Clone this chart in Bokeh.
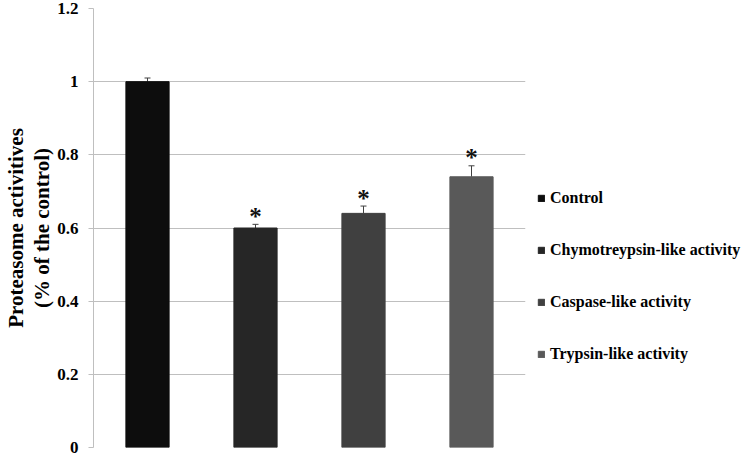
from bokeh.plotting import figure
from bokeh.models import (ColumnDataSource, Range1d, FixedTicker, CustomJSTickFormatter,
                          Whisker, TeeHead, Legend, LegendItem, LinearAxis)
from bokeh.embed import file_html
from bokeh.resources import INLINE
from bokeh.core.properties import value

# ---- data ----
categories = ["Control", "Chymotreypsin-like activity", "Caspase-like activity", "Trypsin-like activity"]
means = [1.00, 0.60, 0.64, 0.74]
errors = [0.01, 0.01, 0.02, 0.03]
significant = ["", "*", "*", "*"]
bar_colors = ["#0d0d0d", "#262626", "#404040", "#595959"]
y_ticks = [0, 0.2, 0.4, 0.6, 0.8, 1.0, 1.2]
y_title_lines = ["Proteasome activitives", "(% of the control)"]

positions = list(range(len(categories)))
upper = [m + e for m, e in zip(means, errors)]

src = ColumnDataSource(dict(x=positions, top=means, upper=upper, lower=means,
                            color=bar_colors, name=categories, star=significant))

FONT = "Liberation Serif"

p = figure(output_backend="svg", toolbar_location=None,
           frame_width=432, frame_height=439,
           min_border_left=84, min_border_top=8, min_border_bottom=9, min_border_right=0,
           x_range=Range1d(-0.5, 3.5), y_range=Range1d(0, 1.2))
p.outline_line_color = None
p.background_fill_color = "white"
p.border_fill_color = "white"

renderers = []
for i in range(len(categories)):
    sub = ColumnDataSource(dict(x=[positions[i]], top=[means[i]]))
    r = p.vbar(x="x", top="top", width=0.4, source=sub,
               fill_color=bar_colors[i], line_color=bar_colors[i])
    renderers.append(r)

wh = Whisker(base="x", upper="upper", lower="lower", source=src,
             line_color="#404040", line_width=1,
             upper_head=TeeHead(size=6, line_color="#404040", line_width=1),
             lower_head=None)
p.add_layout(wh)

p.text(x="x", y="upper", text="star", source=src,
       text_font=value(FONT), text_font_size="25px", text_font_style="bold",
       text_align="center", text_baseline="middle", y_offset=-8, text_color="#111111")

# axes
p.xaxis.visible = False
p.xgrid.visible = False
p.ygrid.grid_line_color = "#bfbfbf"
p.ygrid.grid_line_width = 1
p.ygrid.ticker = FixedTicker(ticks=y_ticks)

ya = p.yaxis[0]
ya.ticker = FixedTicker(ticks=y_ticks)
ya.formatter = CustomJSTickFormatter(code="return String(Math.round(tick*10)/10);")
ya.axis_line_color = "#bfbfbf"
ya.major_tick_line_color = "#bfbfbf"
ya.major_tick_out = 5
ya.major_tick_in = 0
ya.minor_tick_line_color = None
ya.major_label_text_font = FONT
ya.major_label_text_font_style = "bold"
ya.major_label_text_font_size = "17px"
ya.major_label_text_color = "black"
ya.major_label_standoff = 10
ya.axis_label = y_title_lines[1]
ya.axis_label_text_font = FONT
ya.axis_label_text_font_style = "bold"
ya.axis_label_text_font_size = "21px"
ya.axis_label_text_color = "black"
ya.axis_label_standoff = 0

# outer axis carrying only the first title line
ya2 = LinearAxis(axis_label=y_title_lines[0], ticker=FixedTicker(ticks=[]),
                 axis_line_color=None, major_tick_line_color=None, minor_tick_line_color=None,
                 major_label_text_font_size="0px", major_tick_out=0, major_label_standoff=0,
                 axis_label_standoff=0, axis_label_text_font=FONT,
                 axis_label_text_font_style="bold", axis_label_text_font_size="21px",
                 axis_label_text_color="black")
p.add_layout(ya2, "left")

legend = Legend(items=[LegendItem(label=categories[i], renderers=[renderers[i]]) for i in range(4)],
                location=(12, 84), orientation="vertical",
                glyph_width=8, glyph_height=8, label_height=18, label_standoff=5,
                spacing=34, padding=0, margin=0,
                border_line_color=None, background_fill_alpha=0,
                label_text_font=FONT, label_text_font_style="bold",
                label_text_font_size="16px", label_text_color="black")
p.add_layout(legend, "right")

open("out.html", "w").write(file_html(p, INLINE))
